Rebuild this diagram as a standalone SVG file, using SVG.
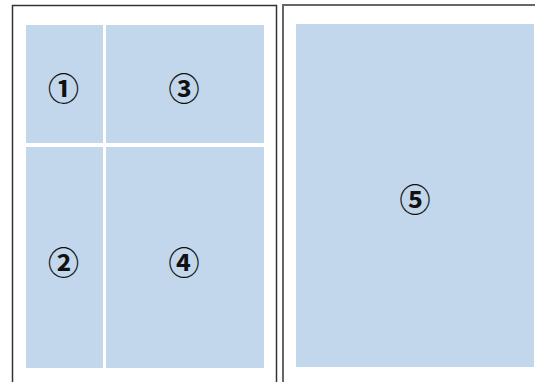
<svg xmlns="http://www.w3.org/2000/svg" width="535" height="382" viewBox="0 0 535 382">
<style>
.cell{fill:#c2d7ec}
.num{font-family:"Noto Sans CJK JP","DejaVu Sans",sans-serif;font-size:31px;font-weight:bold;fill:#111;text-anchor:middle;dominant-baseline:central}
.frameL{fill:none;stroke:#333;stroke-width:1.5}
.frameR{fill:none;stroke:#666;stroke-width:2}
</style>
<rect width="535" height="382" fill="#fff"/>
<g id="frames">
<path class="frameL" d="M12.5 382 V5.5 H276.5 V382"/>
<path class="frameR" d="M283 382 V5 H536"/>
</g>
<g id="n1"><rect class="cell" x="26" y="25" width="77" height="118"/><text class="num" x="63.5" y="86">①</text></g>
<g id="n3"><rect class="cell" x="106" y="25" width="158" height="118"/><text class="num" x="184" y="86">③</text></g>
<g id="n2"><rect class="cell" x="26" y="147" width="77" height="221"/><text class="num" x="63.5" y="260">②</text></g>
<g id="n4"><rect class="cell" x="106" y="147" width="158" height="221"/><text class="num" x="184" y="260">④</text></g>
<g id="n5"><rect class="cell" x="296" y="24" width="238" height="343"/><text class="num" x="415" y="197">⑤</text></g>
</svg>
